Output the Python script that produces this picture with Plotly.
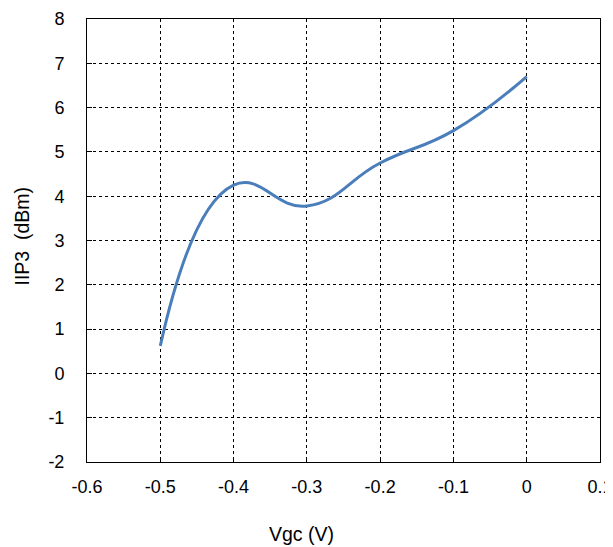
import plotly.graph_objects as go

vgc = [-0.5, -0.4, -0.3, -0.2, -0.1, 0.0]
iip3 = [0.62, 4.25, 3.78, 4.75, 5.48, 6.70]

x_ticks = [-0.6, -0.5, -0.4, -0.3, -0.2, -0.1, 0, 0.1]
x_labels = ["-0.6", "-0.5", "-0.4", "-0.3", "-0.2", "-0.1", "0", "0.1"]
y_ticks = [-2, -1, 0, 1, 2, 3, 4, 5, 6, 7, 8]
y_labels = ["-2", "-1", "0", "1", "2", "3", "4", "5", "6", "7", "8"]

x_title = "Vgc (V)"
y_title = "IIP3  (dBm)"

fig = go.Figure()
fig.add_trace(go.Scatter(
    x=vgc, y=iip3, mode="lines",
    line=dict(color="#4A7EBB", width=3, shape="spline", smoothing=1.3),
    showlegend=False, hoverinfo="x+y",
))

font = dict(family="Liberation Sans, Arial, sans-serif", size=18, color="black")
title_font = dict(family="Liberation Sans, Arial, sans-serif", size=19.5, color="black")

# page body has an 8px margin, so the figure is sized to fit the 613x547 window
fig.update_layout(
    width=605, height=539,
    margin=dict(l=79, r=13, t=11, b=85, autoexpand=False),
    paper_bgcolor="white", plot_bgcolor="white",
    font=font,
    xaxis=dict(
        range=[-0.6, 0.1], tickvals=x_ticks, ticktext=x_labels,
        showgrid=True, gridcolor="black", griddash="dot", gridwidth=1,
        showline=True, linecolor="black", linewidth=1, mirror=True,
        ticks="inside", ticklen=5, tickcolor="black",
        zeroline=False, ticklabelstandoff=8, automargin=False,
    ),
    yaxis=dict(
        range=[-2, 8], tickvals=y_ticks, ticktext=y_labels,
        showgrid=True, gridcolor="black", griddash="dot", gridwidth=1,
        showline=True, linecolor="black", linewidth=1, mirror=True,
        ticks="inside", ticklen=5, tickcolor="black",
        zeroline=False, ticklabelstandoff=18, automargin=False,
    ),
    annotations=[
        dict(text=x_title, xref="paper", yref="paper", x=0.419, y=-0.1625,
             xanchor="center", yanchor="middle", showarrow=False, font=title_font),
        dict(text=y_title, xref="paper", yref="paper", x=-0.1267, y=0.509,
             xanchor="center", yanchor="middle", textangle=-90, showarrow=False,
             font=title_font),
    ],
)

fig.write_html("out.html")
